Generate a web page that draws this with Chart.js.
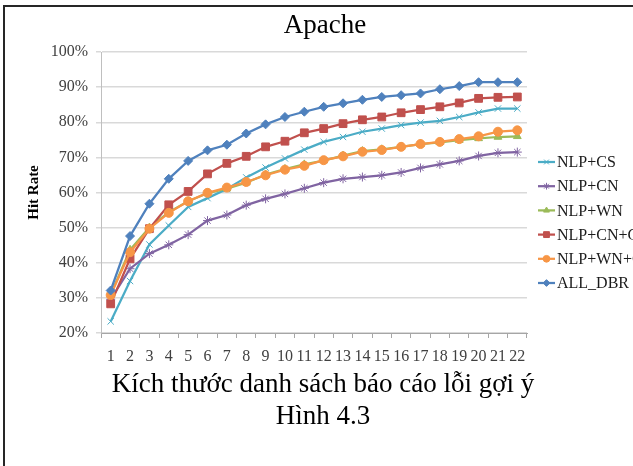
<!DOCTYPE html>
<html>
<head>
<meta charset="utf-8">
<title>Apache</title>
<script src="https://cdn.jsdelivr.net/npm/chart.js@4.4.1/dist/chart.umd.min.js"></script>
<style>
  html, body { margin: 0; padding: 0; background: #fff; overflow: hidden; }
  #frame { position: absolute; left: 3px; top: 5px; width: 700px; height: 600px; border: 2px solid #262626; }
  #wrap { position: absolute; left: 0; top: 0; width: 633px; height: 466px; }
</style>
</head>
<body>
<div id="frame"></div>
<div id="wrap"><canvas id="chart"></canvas></div>
<script>
    // Hit rate (%) by size of the suggested bug report list
    const listSizes = ['1','2','3','4','5','6','7','8','9','10','11','12','13','14','15','16','17','18','19','20','21','22'];
    const yTickValues = [20, 30, 40, 50, 60, 70, 80, 90, 100];

    const nlpCS   = [23.3, 34.8, 45.2, 50.6, 55.9, 58.4, 61.0, 64.3, 67.1, 69.7, 72.2, 74.4, 75.8, 77.3, 78.2, 79.2, 79.9, 80.4, 81.5, 82.8, 83.9, 83.9];
    const nlpCN   = [29.6, 38.3, 42.6, 45.1, 48.0, 52.0, 53.6, 56.4, 58.2, 59.6, 61.2, 62.8, 63.9, 64.4, 64.9, 65.7, 67.0, 68.0, 69.0, 70.4, 71.3, 71.5];
    const nlpWN   = [31.0, 43.7, 50.0, 54.4, 57.5, 59.8, 61.1, 62.8, 65.1, 66.7, 68.0, 69.1, 70.5, 71.8, 72.3, 73.0, 73.8, 74.3, 74.9, 75.4, 75.8, 76.0];
    const nlpCNCS = [28.3, 41.1, 49.7, 56.5, 60.3, 65.3, 68.3, 70.3, 73.0, 74.6, 77.0, 78.2, 79.6, 80.7, 81.5, 82.7, 83.6, 84.4, 85.5, 86.8, 87.1, 87.2];
    const nlpWNCS = [30.8, 43.0, 49.7, 54.2, 57.5, 59.9, 61.4, 63.0, 64.9, 66.5, 67.6, 69.2, 70.3, 71.6, 72.1, 73.0, 73.8, 74.4, 75.2, 76.0, 77.3, 77.7];
    const allDBR  = [32.1, 47.6, 56.8, 63.9, 69.0, 72.0, 73.6, 76.8, 79.4, 81.5, 83.0, 84.4, 85.4, 86.4, 87.2, 87.7, 88.2, 89.4, 90.3, 91.4, 91.4, 91.4];

    const seriesNames = ['NLP+CS', 'NLP+CN', 'NLP+WN', 'NLP+CN+CS', 'NLP+WN+CS', 'ALL_DBR'];
    const seriesColors = ['#4BACC6', '#8064A2', '#9BBB59', '#C0504D', '#F79646', '#4F81BD'];
    const seriesMarkers = ['crossRot', 'star', 'triangle', 'rect', 'circle', 'rectRot'];
    const markerSizes = [4.5, 4.5, 4.5, 5.5, 4.5, 4.5];
    const seriesValues = [nlpCS, nlpCN, nlpWN, nlpCNCS, nlpWNCS, allDBR];

    const serif = "'Liberation Serif', 'Times New Roman', serif";
    Chart.defaults.font.family = serif;

    // titles and caption are not centred on the plot, so draw them here
    const figureText = {
      id: 'figureText',
      afterDraw(chart) {
        const ctx = chart.ctx;
        ctx.save();
        ctx.fillStyle = '#000';
        ctx.textAlign = 'center';
        ctx.textBaseline = 'middle';
        ctx.font = '27px ' + serif;
        ctx.fillText('Apache', 325, 26);
        ctx.fillText('Kích thước danh sách báo cáo lỗi gợi ý', 323, 385);
        ctx.fillText('Hình 4.3', 323, 417);
        ctx.restore();
      }
    };

    // Excel style legend: short line with the marker on it
    const sideLegend = {
      id: 'sideLegend',
      afterDraw(chart) {
        const ctx = chart.ctx;
        const x0 = chart.chartArea.right + 11;
        ctx.save();
        chart.data.datasets.forEach((ds, i) => {
          const y = 162 + i * 24.2;
          ctx.strokeStyle = ds.borderColor;
          ctx.fillStyle = ds.backgroundColor;
          ctx.lineWidth = 2.25;
          ctx.beginPath();
          ctx.moveTo(x0, y);
          ctx.lineTo(x0 + 17, y);
          ctx.stroke();
          ctx.lineWidth = 1;
          Chart.helpers.drawPoint(ctx, {
            pointStyle: ds.pointStyle,
            radius: ds.pointRadius * 0.75,
            rotation: 0,
            borderWidth: 1
          }, x0 + 8.5, y);
          ctx.fillStyle = '#1a1a1a';
          ctx.font = '16px ' + serif;
          ctx.textAlign = 'left';
          ctx.textBaseline = 'middle';
          ctx.fillText(ds.label, x0 + 19, y + 1);
        });
        ctx.restore();
      }
    };

    const ctx = document.getElementById('chart').getContext('2d');

    const chart = new Chart(ctx, {
      type: 'line',
      data: {
        labels: listSizes,
        datasets: seriesNames.map((name, i) => ({
          label: name,
          data: seriesValues[i],
          borderColor: seriesColors[i],
          backgroundColor: seriesColors[i],
          borderWidth: 2.25,
          tension: 0,
          fill: false,
          pointStyle: seriesMarkers[i],
          pointRadius: markerSizes[i],
          pointBorderWidth: 1,
          pointBorderColor: seriesColors[i],
          pointBackgroundColor: seriesColors[i],
          order: seriesNames.length - 1 - i
        }))
      },
      options: {
        responsive: true,
        maintainAspectRatio: false,
        animation: false,
        devicePixelRatio: 1,
        layout: {
          padding: { top: 52, right: 106, left: 0, bottom: 0 }
        },
        scales: {
          x: {
            type: 'category',
            offset: true,
            afterFit: s => { s.height = 133; },
            grid: {
              offset: true,
              drawOnChartArea: false,
              drawTicks: true,
              tickLength: 5,
              color: '#a6a6a6'
            },
            border: { color: '#a6a6a6', width: 1 },
            ticks: {
              autoSkip: false,
              maxRotation: 0,
              padding: 9,
              color: '#404040',
              font: { size: 16 }
            }
          },
          y: {
            min: 20,
            max: 100,
            afterFit: s => { s.width = 101; },
            afterBuildTicks: s => { s.ticks = yTickValues.map(v => ({ value: v })); },
            grid: {
              color: '#d9d9d9',
              lineWidth: 1.5,
              tickLength: 5
            },
            border: { color: '#bfbfbf', width: 1 },
            ticks: {
              padding: 8,
              color: '#404040',
              font: { size: 16 },
              callback: v => v + '%'
            },
            title: {
              display: true,
              text: 'Hit Rate',
              color: '#000',
              font: { size: 15, weight: 'bold' },
              padding: { top: 25, bottom: 0 }
            }
          }
        },
        plugins: {
          legend: { display: false },
          tooltip: { enabled: false },
          title: { display: false }
        }
      },
      plugins: [figureText, sideLegend]
    });
</script>
</body>
</html>
